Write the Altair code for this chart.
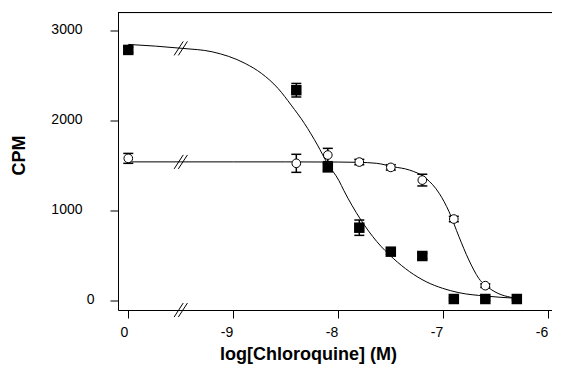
import json
import altair as alt
import pandas as pd

# ---- data ----
# -10 on the x scale stands for the "0" (no chloroquine) point on the broken axis
log_conc = [-10, -8.4, -8.1, -7.8, -7.5, -7.2, -6.9, -6.6, -6.3]
square_cpm = [2785, 2338, 1482, 813, 547, 499, 22, 22, 22]
square_sem = [30, 75, 40, 85, 30, 30, 15, 15, 15]
circle_cpm = [1582, 1527, 1619, 1541, 1482, 1341, 909, 170, 25]
circle_sem = [55, 100, 74, 30, 30, 65, 30, 20, 10]

square_fit_x = [-10, -9.483, -9.201, -8.887, -8.731, -8.574, -8.449, -8.323, -8.198,
                -8.104, -7.994, -7.947, -7.791, -7.634, -7.477, -7.321, -7.164,
                -7.008, -6.851, -6.601, -6.303]
square_fit_y = [2846, 2802, 2764, 2635, 2524, 2358, 2173, 1970, 1729,
                1527, 1335, 1225, 910, 660, 473, 325, 214,
                141, 92, 55, 30]
circle_fit_x = [-10, -9.5, -9.0, -8.5, -8.0, -7.806, -7.634, -7.477, -7.321, -7.164,
                -7.039, -6.945, -6.851, -6.757, -6.663, -6.537, -6.303]
circle_fit_y = [1543, 1543, 1543, 1543, 1541, 1538, 1527, 1489, 1452, 1360,
                1194, 990, 713, 455, 252, 122, 30]

x_tick_values = [-10, -9, -8, -7, -6]
x_tick_labels = ["0", "-9", "-8", "-7", "-6"]
y_tick_values = [0, 1000, 2000, 3000]
break_x = -9.5
break_y = [-100, 2802, 1543]  # axis line, upper curve, lower curve

x_domain = [-10.098, -5.965]
y_domain = [-100, 3200]

FONT = "Liberation Sans"

# ---- tables ----
pts = pd.DataFrame({
    "x": log_conc * 2,
    "y": square_cpm + circle_cpm,
    "err": square_sem + circle_sem,
    "series": ["square"] * len(log_conc) + ["circle"] * len(log_conc),
})
pts["lo"] = pts["y"] - pts["err"]
pts["hi"] = pts["y"] + pts["err"]
caps = pd.DataFrame({
    "x": list(pts["x"]) * 2,
    "y": list(pts["lo"]) + list(pts["hi"]),
})
fits = pd.DataFrame({
    "x": square_fit_x + circle_fit_x,
    "y": square_fit_y + circle_fit_y,
    "series": ["square"] * len(square_fit_x) + ["circle"] * len(circle_fit_x),
})
breaks = pd.DataFrame({"x": [break_x] * len(break_y), "y": break_y})

label_expr = f"{json.dumps(x_tick_labels)}[indexof({json.dumps(x_tick_values)}, datum.value)]"

x_axis = alt.Axis(
    values=x_tick_values, labelExpr=label_expr, grid=False,
    title="log[Chloroquine] (M)", tickSize=8, tickColor="black", domainColor="black",
    labelFont=FONT, labelFontSize=14, labelColor="black", labelAlign="right",
    labelBaseline="top", labelPadding=7, labelOffset=-0.5, labelFlush=False, labelOverlap=False,
    titleFont=FONT, titleFontSize=18, titleFontWeight="bold", titleColor="black",
    titleX=190, titleY=49.5, titleAlign="center", titleBaseline="alphabetic",
)
y_axis = alt.Axis(
    values=y_tick_values, format="d", grid=False, title="CPM",
    tickSize=8, tickColor="black", domainColor="black",
    labelFont=FONT, labelFontSize=14, labelColor="black",
    labelPadding={"condition": {"test": "datum.value == 0", "value": 16}, "value": 28},
    labelOffset=-1.5, labelFlush=False, labelOverlap=False,
    titleFont=FONT, titleFontSize=18, titleFontWeight="bold", titleColor="black",
    titleAngle=-90, titleX=-94, titleY=142.5, titleAlign="center", titleBaseline="alphabetic",
)

X = alt.X("x:Q", scale=alt.Scale(domain=x_domain, nice=False, zero=False), axis=x_axis)
Y = alt.Y("y:Q", scale=alt.Scale(domain=y_domain, nice=False, zero=False), axis=y_axis)

curves = alt.Chart(fits).mark_line(color="black", strokeWidth=1, interpolate="monotone").encode(
    x=X, y=Y, detail="series:N"
)
bars = alt.Chart(pts).mark_rule(color="black", strokeWidth=1.5).encode(
    x=X, y=alt.Y("lo:Q"), y2="hi:Q"
)
cap_marks = alt.Chart(caps).mark_point(
    shape="M-1,0L1,0", size=100, stroke="black", strokeWidth=1.5, filled=False, opacity=1
).encode(x=X, y=Y)
circles = alt.Chart(pts).transform_filter(alt.datum.series == "circle").mark_circle(
    fill="white", stroke="black", strokeWidth=1, size=75, opacity=1
).encode(x=X, y=Y)
squares = alt.Chart(pts).transform_filter(alt.datum.series == "square").mark_square(
    color="black", size=110, opacity=1
).encode(x=X, y=Y)
break_marks = alt.Chart(breaks).mark_point(
    shape="M-0.95,1L0.35,-1M-0.35,1L0.95,-1", size=196, stroke="black",
    strokeWidth=1, filled=False, opacity=1
).encode(x=X, y=Y)
top_line = alt.Chart(breaks).mark_rule(color="black", strokeWidth=1).encode(
    y=alt.datum(y_domain[1])
)

chart = alt.layer(curves, bars, cap_marks, circles, squares, break_marks, top_line).properties(
    width=434, height=297.5,
    autosize=alt.AutoSizeParams(type="none"),
    padding={"left": 110, "top": 4.5, "right": 0, "bottom": 54},
).configure_view(stroke="transparent").configure(background="white")

chart.save("out.html", embed_options={"renderer": "svg", "actions": False})
